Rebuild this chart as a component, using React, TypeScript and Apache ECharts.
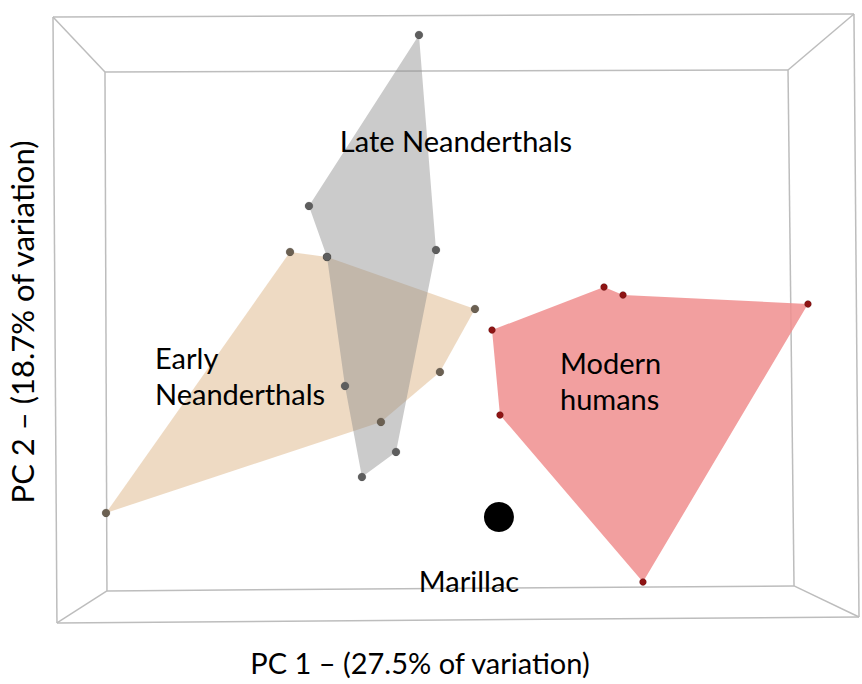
import React, { useEffect, useRef } from "react";
import * as echarts from "echarts";

// PC1 / PC2 scores (hull order)
const lateNeanderthals: [number, number][] = [
  [-0.333, 3.441],
  [-0.134, 0.946],
  [-0.601, -1.398],
  [-0.999, -1.689],
  [-1.197, -0.632],
  [-1.407, 0.865],
  [-1.618, 1.456],
];
const earlyNeanderthals: [number, number][] = [
  [-1.839, 0.923],
  [-1.407, 0.865],
  [0.321, 0.261],
  [-0.088, -0.47],
  [-0.777, -1.05],
  [-3.988, -2.106],
];
const modernHumans: [number, number][] = [
  [1.828, 0.516],
  [2.05, 0.424],
  [4.21, 0.319],
  [2.283, -2.907],
  [0.613, -0.969],
  [0.52, 0.017],
];
const marillac: [number, number][] = [[0.601, -2.153]];

// 3D bounding box: outer and inner frame corners (TL, TR, BR, BL)
const outerFrame: [number, number][] = [
  [-4.607, 3.65],
  [4.747, 3.685],
  [4.806, -3.313],
  [-4.561, -3.383],
];
const innerFrame: [number, number][] = [
  [-4.0, 3.011],
  [3.977, 3.035],
  [4.047, -2.953],
  [-3.977, -3.011],
];

const xTitle = "PC 1 – (27.5% of variation)";
const yTitle = "PC 2 – (18.7% of variation)";

const FONT = "Lato, 'Noto Sans', sans-serif";

function polygonSeries(pts: [number, number][], fill: string, z: number) {
  return {
    type: "custom",
    silent: true,
    clip: false,
    z,
    data: pts,
    encode: { x: 0, y: 1 },
    renderItem: (params: any, api: any) => {
      if (params.dataIndex !== 0) return null;
      return {
        type: "polygon",
        shape: { points: pts.map((p) => api.coord(p)) },
        style: { fill, stroke: "none" },
      };
    },
  };
}

export default function App() {
  const ref = useRef<HTMLDivElement>(null);
  useEffect(() => {
    if (!ref.current) return;
    const chart = echarts.init(ref.current, undefined, { renderer: "svg" });

    const segments: number[][] = [];
    for (let i = 0; i < 4; i++) {
      const j = (i + 1) % 4;
      segments.push([...outerFrame[i], ...outerFrame[j]]);
      segments.push([...innerFrame[i], ...innerFrame[j]]);
      segments.push([...outerFrame[i], ...innerFrame[i]]);
    }

    const pointStyle = (color: string, size: number) => ({
      symbolSize: size,
      itemStyle: {
        color,
        opacity: 1,
        borderColor: "rgba(0,0,0,0.25)",
        borderWidth: 0.5,
      },
    });

    chart.setOption({
      animation: false,
      backgroundColor: "#ffffff",
      grid: { left: 0, right: 0, top: 0, bottom: 0 },
      xAxis: { type: "value", min: -5.226, max: 4.841, show: false },
      yAxis: { type: "value", min: -4.091, max: 3.847, show: false },
      series: [
        {
          type: "custom",
          silent: true,
          clip: false,
          z: 1,
          data: segments,
          encode: { x: [0, 2], y: [1, 3] },
          renderItem: (params: any, api: any) => {
            const a = api.coord([api.value(0), api.value(1)]);
            const b = api.coord([api.value(2), api.value(3)]);
            return {
              type: "line",
              shape: { x1: a[0], y1: a[1], x2: b[0], y2: b[1] },
              style: { stroke: "#bdbdbd", lineWidth: 1.5 },
            };
          },
        },
        polygonSeries(earlyNeanderthals, "rgba(237,216,192,0.95)", 2),
        polygonSeries(lateNeanderthals, "rgba(140,140,140,0.45)", 3),
        polygonSeries(modernHumans, "rgba(240,142,142,0.85)", 2),
        {
          type: "scatter",
          z: 5,
          data: earlyNeanderthals,
          ...pointStyle("#6b6052", 8),
        },
        {
          type: "scatter",
          z: 5,
          data: lateNeanderthals,
          ...pointStyle("#5e5e5e", 8),
        },
        {
          type: "scatter",
          z: 5,
          data: modernHumans,
          ...pointStyle("#8e1414", 7),
        },
        {
          type: "scatter",
          z: 6,
          data: marillac,
          symbolSize: 30,
          itemStyle: { color: "#000000", opacity: 1 },
        },
      ],
      graphic: [
        {
          type: "text",
          z: 10,
          style: {
            x: 456,
            y: 140,
            text: "Late Neanderthals",
            font: `29px ${FONT}`,
            fill: "#000",
            align: "center",
            verticalAlign: "middle",
          },
        },
        {
          type: "text",
          z: 10,
          style: {
            x: 155,
            y: 375,
            text: "Early\nNeanderthals",
            font: `29px ${FONT}`,
            lineHeight: 36,
            fill: "#000",
            align: "left",
            verticalAlign: "middle",
          },
        },
        {
          type: "text",
          z: 10,
          style: {
            x: 560,
            y: 380,
            text: "Modern\nhumans",
            font: `29px ${FONT}`,
            lineHeight: 36,
            fill: "#000",
            align: "left",
            verticalAlign: "middle",
          },
        },
        {
          type: "text",
          z: 10,
          style: {
            x: 469,
            y: 580,
            text: "Marillac",
            font: `29px ${FONT}`,
            fill: "#000",
            align: "center",
            verticalAlign: "middle",
          },
        },
        {
          type: "text",
          z: 10,
          style: {
            x: 420,
            y: 662,
            text: xTitle,
            font: `29px ${FONT}`,
            fill: "#000",
            align: "center",
            verticalAlign: "middle",
          },
        },
        {
          type: "text",
          z: 10,
          x: 22,
          y: 322,
          rotation: Math.PI / 2,
          style: {
            x: 0,
            y: 0,
            text: yTitle,
            font: `31px ${FONT}`,
            fill: "#000",
            align: "center",
            verticalAlign: "middle",
          },
        },
      ],
    });
    return () => chart.dispose();
  }, []);
  return (
    <div
      ref={ref}
      style={{ position: "absolute", left: 0, top: 0, width: 862, height: 684 }}
    />
  );
}
